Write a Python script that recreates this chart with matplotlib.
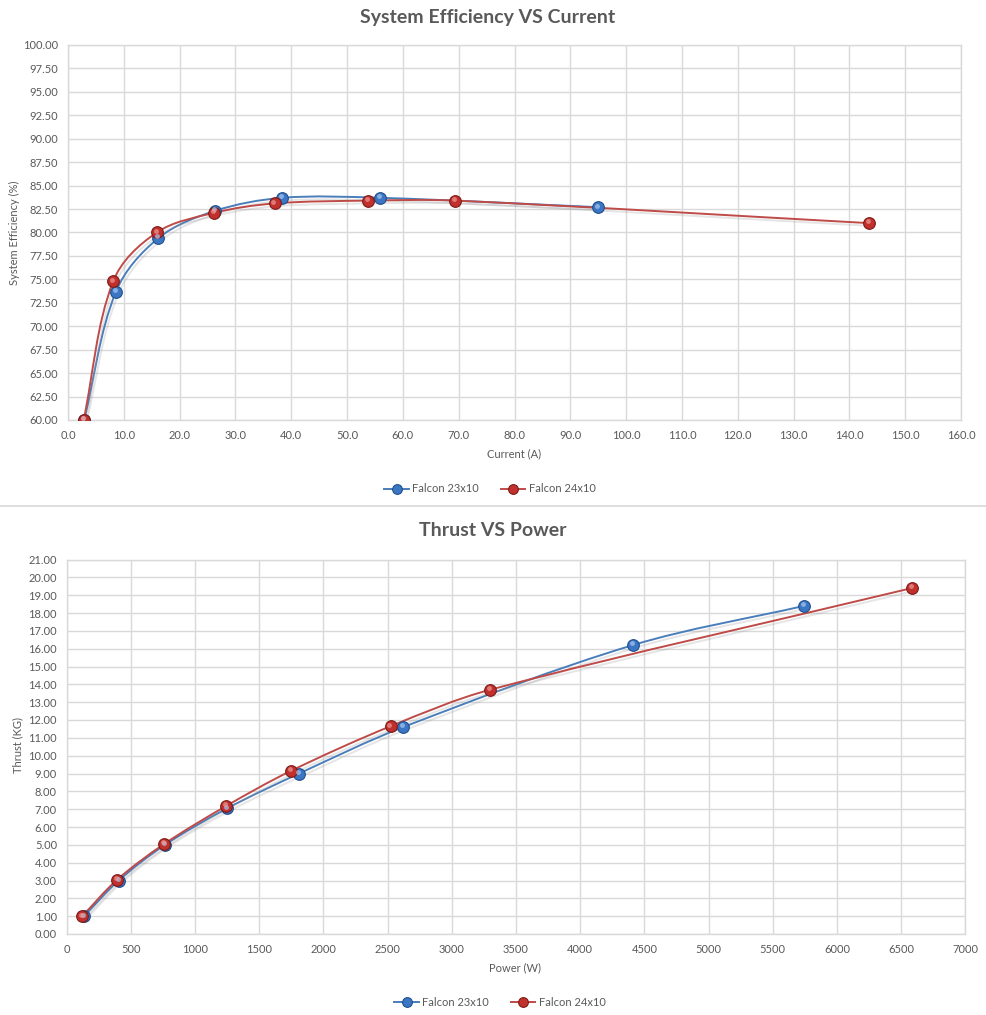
import numpy as np
import matplotlib
matplotlib.use('Agg')
import matplotlib.pyplot as plt
from matplotlib.path import Path
from matplotlib.patches import PathPatch
from matplotlib.lines import Line2D
import matplotlib.patheffects as pe
from matplotlib.transforms import ScaledTranslation

plt.rcParams['font.family'] = ['Lato', 'DejaVu Sans']

# ---------------- data ----------------
series_names = ['Falcon 23x10', 'Falcon 24x10']

eff_current_23 = [2.9, 8.6, 16.2, 26.3, 38.4, 55.9, 95.0]
eff_value_23 = [60.0, 73.7, 79.4, 82.3, 83.7, 83.7, 82.7]
eff_current_24 = [2.8, 8.1, 15.9, 26.2, 37.0, 53.8, 69.4, 143.5]
eff_value_24 = [60.0, 74.8, 80.0, 82.1, 83.1, 83.4, 83.4, 81.0]

thrust_power_23 = [135, 405, 766, 1251, 1811, 2621, 4411, 5745]
thrust_kg_23 = [1.0, 3.0, 5.0, 7.05, 9.0, 11.6, 16.2, 18.4]
thrust_power_24 = [121, 394, 760, 1243, 1745, 2523, 3300, 6586]
thrust_kg_24 = [1.0, 3.05, 5.05, 7.18, 9.14, 11.65, 13.7, 19.4]

eff_xticks = np.arange(0, 161, 10)
eff_yticks = np.arange(60, 100.01, 2.5)
thr_xticks = np.arange(0, 7001, 500)
thr_yticks = np.arange(0, 21.01, 1)

# ---------------- style ----------------
BLUE_LINE = '#4A7EBB'
RED_LINE = '#BE4B48'
BLUE_FACE = '#3B76C4'
BLUE_EDGE = '#1F4E8C'
BLUE_HI = '#A9C8EE'
RED_FACE = '#C0302C'
RED_EDGE = '#7E1A17'
RED_HI = '#EE9A96'
GRID = '#D9D9D9'
TXT = '#595959'

W, H = 986, 1015
fig = plt.figure(figsize=(W / 100, H / 100), dpi=100)
fig.patch.set_facecolor('white')


def smooth_path(ax, x, y):
    """Smooth bezier path through the data points, tangents computed in screen space."""
    xl, yl = ax.get_xlim(), ax.get_ylim()
    bb = ax.get_position()
    sx = bb.width * W / (xl[1] - xl[0])
    sy = bb.height * H / (yl[1] - yl[0])
    P = np.column_stack([(np.asarray(x, float) - xl[0]) * sx,
                         (np.asarray(y, float) - yl[0]) * sy])
    n = len(P)
    D = np.zeros_like(P)
    for i in range(n):
        a = P[max(i - 1, 0)]
        b = P[min(i + 1, n - 1)]
        d = b - a
        D[i] = d / np.hypot(*d)
    verts = [P[0]]
    codes = [Path.MOVETO]
    for i in range(n - 1):
        L = np.hypot(*(P[i + 1] - P[i]))
        c1 = P[i] + D[i] * L / 3.0
        c2 = P[i + 1] - D[i + 1] * L / 3.0
        verts += [c1, c2, P[i + 1]]
        codes += [Path.CURVE4] * 3
    V = np.array(verts)
    V[:, 0] = V[:, 0] / sx + xl[0]
    V[:, 1] = V[:, 1] / sy + yl[0]
    return Path(V, codes)


def draw_series(ax, x, y, lc, fc, ec, hc):
    path = smooth_path(ax, x, y)
    patch = PathPatch(path, facecolor='none', edgecolor=lc, lw=1.4,
                      transform=ax.transData, zorder=3)
    patch.set_path_effects([pe.SimpleLineShadow(offset=(1.5, -2.0), shadow_color='#999999', alpha=0.25),
                            pe.Normal()])
    ax.add_patch(patch)
    ax.plot(x, y, linestyle='none', marker='o', markersize=8.4,
            markerfacecolor=fc, markeredgecolor=ec, markeredgewidth=0.8, zorder=4)
    off = ax.transData + ScaledTranslation(-0.8 / 72, 1.2 / 72, fig.dpi_scale_trans)
    ax.plot(x, y, linestyle='none', marker='o', markersize=3.5,
            markerfacecolor=hc, markeredgecolor='none', alpha=0.7, transform=off, zorder=5)


def style_axes(ax):
    ax.set_facecolor('white')
    ax.grid(True, color=GRID, lw=1.0)
    ax.set_axisbelow(True)
    for s in ax.spines.values():
        s.set_color(GRID)
        s.set_linewidth(1.0)
    ax.tick_params(length=0, labelsize=8, labelcolor=TXT, pad=7)


# ---------------- top chart ----------------
ax1 = fig.add_axes([68 / W, 1 - 420 / H, (961 - 68) / W, 375 / H])
style_axes(ax1)
ax1.set_xlim(0, 160)
ax1.set_ylim(60, 100)
ax1.set_xticks(eff_xticks)
ax1.set_xticklabels([f'{v:.1f}' for v in eff_xticks])
ax1.set_yticks(eff_yticks)
ax1.set_yticklabels([f'{v:.2f}' for v in eff_yticks])
draw_series(ax1, eff_current_23, eff_value_23, BLUE_LINE, BLUE_FACE, BLUE_EDGE, BLUE_HI)
draw_series(ax1, eff_current_24, eff_value_24, RED_LINE, RED_FACE, RED_EDGE, RED_HI)
ax1.set_xlabel('Current (A)', fontsize=8, color=TXT)
ax1.set_ylabel('System Efficiency (%)', fontsize=8, color=TXT)
ax1.xaxis.set_label_coords((514 - 68) / 893, (420 - 454) / 375)
ax1.xaxis.label.set_va('center')
ax1.yaxis.set_label_coords((14 - 68) / 893, 0.5)
ax1.yaxis.label.set_va('center')
fig.text(488 / W, 1 - 17 / H, 'System Efficiency VS Current', ha='center', va='center',
         fontsize=14, fontweight='bold', color=TXT)

# ---------------- bottom chart ----------------
ax2 = fig.add_axes([66.7 / W, 1 - 934 / H, (965.3 - 66.7) / W, 374.5 / H])
style_axes(ax2)
ax2.set_xlim(0, 7000)
ax2.set_ylim(0, 21)
ax2.set_xticks(thr_xticks)
ax2.set_xticklabels([f'{int(v)}' for v in thr_xticks])
ax2.set_yticks(thr_yticks)
ax2.set_yticklabels([f'{v:.2f}' for v in thr_yticks])
draw_series(ax2, thrust_power_23, thrust_kg_23, BLUE_LINE, BLUE_FACE, BLUE_EDGE, BLUE_HI)
draw_series(ax2, thrust_power_24, thrust_kg_24, RED_LINE, RED_FACE, RED_EDGE, RED_HI)
ax2.set_xlabel('Power (W)', fontsize=8, color=TXT)
ax2.set_ylabel('Thrust (KG)', fontsize=8, color=TXT)
ax2.xaxis.set_label_coords((515 - 66.7) / 898.6, (934 - 968) / 374.5)
ax2.xaxis.label.set_va('center')
ax2.yaxis.set_label_coords((18 - 66.7) / 898.6, 0.505)
ax2.yaxis.label.set_va('center')
fig.text(493 / W, 1 - 531 / H, 'Thrust VS Power', ha='center', va='center',
         fontsize=14, fontweight='bold', color=TXT)

# ---------------- legends & separator ----------------
def legend_handles():
    return [Line2D([0], [0], color=BLUE_LINE, lw=1.4, marker='o', markersize=7,
                   markerfacecolor=BLUE_FACE, markeredgecolor=BLUE_EDGE, markeredgewidth=0.8),
            Line2D([0], [0], color=RED_LINE, lw=1.4, marker='o', markersize=7,
                   markerfacecolor=RED_FACE, markeredgecolor=RED_EDGE, markeredgewidth=0.8)]

for cy, cx in [(489, 490), (1002, 500)]:
    leg = fig.legend(legend_handles(), series_names, loc='center', ncol=2, frameon=False,
                     bbox_to_anchor=(cx / W, 1 - cy / H), fontsize=8, handlelength=2.2,
                     columnspacing=2.0, handletextpad=0.3)
    for t in leg.get_texts():
        t.set_color(TXT)

fig.add_artist(Line2D([0, 1], [1 - 506 / H, 1 - 506 / H], color=GRID, lw=1.2,
                      transform=fig.transFigure))

fig.savefig('out.png', dpi=100, facecolor='white')
